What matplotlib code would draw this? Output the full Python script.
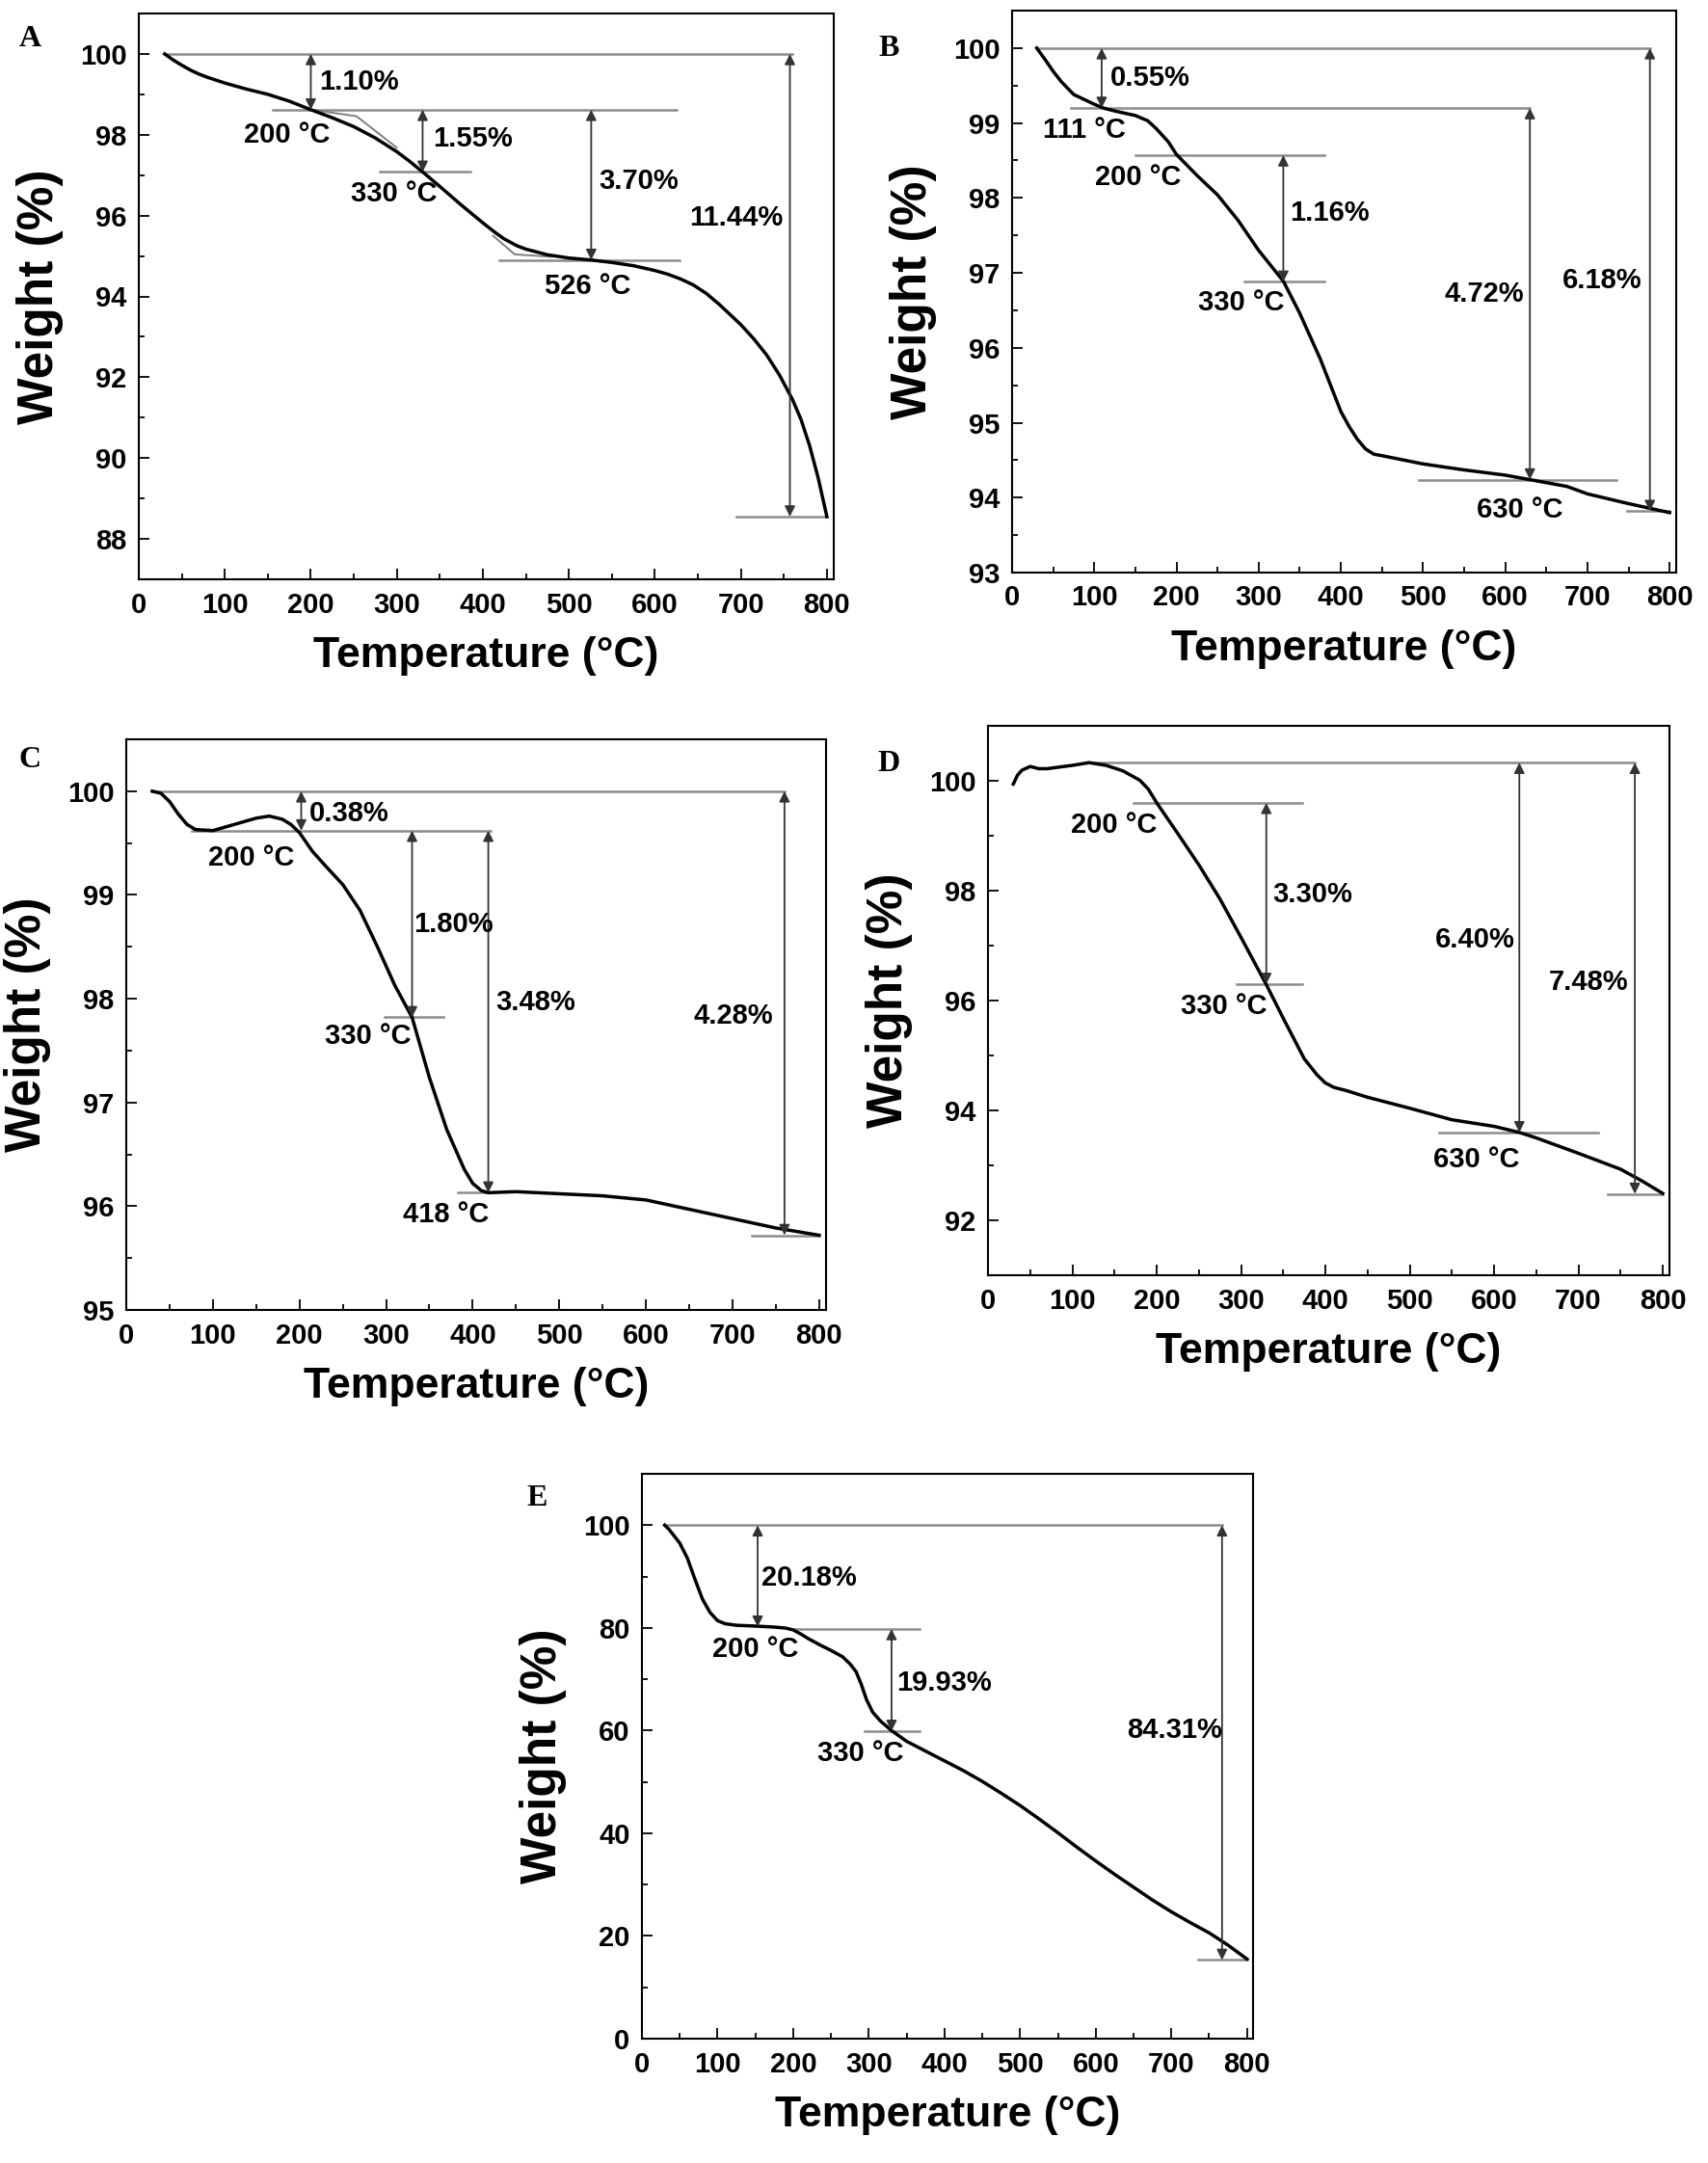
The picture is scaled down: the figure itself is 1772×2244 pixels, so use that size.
import matplotlib.pyplot as plt
from matplotlib.ticker import MultipleLocator

plt.rcParams['font.family'] = ['Liberation Sans', 'DejaVu Sans']
plt.rcParams['font.weight'] = 'bold'

# ------------------------------------------------------------------
# TGA curves (temperature in °C, weight in %)
# ------------------------------------------------------------------
temp_a = [30, 40, 50, 60, 70, 80, 90, 100, 125, 150, 175, 200, 225, 250, 275, 300, 315, 330, 350,
          375, 400, 415, 425, 440, 450, 475, 500, 526, 550, 575, 600, 615, 630, 645, 660, 675, 690,
          700, 715, 730, 745, 760, 770, 780, 790, 800]
weight_a = [100.0, 99.85, 99.72, 99.6, 99.5, 99.42, 99.35, 99.28, 99.13, 99.0, 98.83, 98.62, 98.42,
            98.2, 97.92, 97.58, 97.34, 97.08, 96.72, 96.26, 95.82, 95.57, 95.42, 95.25, 95.17, 95.03,
            94.95, 94.9, 94.84, 94.76, 94.64, 94.55, 94.43, 94.28, 94.07, 93.8, 93.5, 93.3, 92.95,
            92.55, 92.05, 91.45, 90.95, 90.3, 89.5, 88.55]

temp_b = [30, 40, 50, 60, 75, 100, 111, 125, 150, 165, 175, 190, 200, 225, 250, 275, 300, 330, 350,
          375, 400, 410, 420, 430, 440, 450, 500, 550, 600, 630, 650, 675, 700, 750, 775, 800]
weight_b = [100.0, 99.85, 99.69, 99.55, 99.38, 99.25, 99.2, 99.16, 99.1, 99.03, 98.93, 98.75, 98.58,
            98.3, 98.04, 97.7, 97.3, 96.89, 96.46, 95.85, 95.15, 94.95, 94.78, 94.65, 94.58, 94.56,
            94.45, 94.37, 94.3, 94.24, 94.2, 94.15, 94.05, 93.92, 93.86, 93.8]

temp_c = [30, 40, 50, 60, 70, 80, 100, 125, 150, 165, 180, 190, 200, 215, 230, 250, 270, 290, 310,
          330, 350, 370, 390, 400, 410, 418, 450, 500, 550, 600, 650, 700, 750, 800]
weight_c = [100.0, 99.98, 99.9, 99.78, 99.68, 99.63, 99.62, 99.68, 99.74, 99.76, 99.73, 99.68, 99.6,
            99.42, 99.28, 99.1, 98.85, 98.5, 98.13, 97.82, 97.24, 96.74, 96.36, 96.22, 96.15, 96.13,
            96.14, 96.12, 96.1, 96.06, 95.97, 95.88, 95.79, 95.72]

temp_d = [30, 35, 40, 50, 60, 70, 100, 120, 140, 160, 180, 190, 200, 225, 250, 275, 300, 330, 350,
          375, 390, 400, 410, 425, 450, 500, 550, 600, 630, 650, 700, 750, 775, 800]
weight_d = [99.94, 100.1, 100.19, 100.26, 100.22, 100.22, 100.28, 100.33, 100.28, 100.18, 100.01,
            99.85, 99.6, 99.04, 98.47, 97.85, 97.15, 96.29, 95.68, 94.94, 94.65, 94.5, 94.42, 94.36,
            94.24, 94.04, 93.83, 93.71, 93.6, 93.5, 93.22, 92.93, 92.72, 92.49]

temp_e = [30, 35, 40, 50, 60, 70, 80, 90, 100, 110, 125, 150, 175, 190, 200, 210, 220, 235, 250,
          265, 275, 283, 290, 297, 305, 315, 330, 350, 375, 400, 425, 450, 475, 500, 525, 550, 575,
          600, 625, 650, 675, 700, 725, 750, 775, 800]
weight_e = [100.0, 99.3, 98.4, 96.5, 93.6, 89.5, 85.6, 83.0, 81.4, 80.8, 80.5, 80.35, 80.15, 79.95,
            79.6, 78.8, 77.9, 76.7, 75.6, 74.4, 73.0, 71.5, 69.0, 66.0, 63.6, 61.9, 60.0, 57.9, 56.0,
            54.1, 52.2, 50.1, 47.8, 45.4, 42.8, 40.1, 37.3, 34.6, 32.0, 29.5, 27.0, 24.7, 22.6,
            20.6, 18.2, 15.5]

# tangent construction lines in panel A
tangent1_t = [200, 253, 300]
tangent1_w = [98.62, 98.46, 97.68]
tangent2_t = [412, 437, 480]
tangent2_w = [95.5, 95.04, 94.98]

# ------------------------------------------------------------------
# Annotations: arrows (x, y_top, y_bottom), guide lines (y, x0, x1), texts (x, y, label)
# ------------------------------------------------------------------
panels = {
    'A': dict(t=temp_a, w=weight_a, ylim=(87, 101), major=2, minor=1,
              rect=(144, 14, 865, 601), letter=(31, 40),
              hlines=[(100, 30, 760), (98.62, 156, 625), (97.08, 280, 385),
                      (94.9, 419, 629), (88.55, 695, 800)],
              arrows=[(200, 100, 98.62), (330, 98.62, 97.08), (526, 98.62, 94.9), (757, 100, 88.55)],
              texts=[(210, 99.3, '1.10%', 'left'), (172, 98.0, '200 °C', 'center'),
                     (342, 97.9, '1.55%', 'left'), (297, 96.55, '330 °C', 'center'),
                     (535, 96.85, '3.70%', 'left'), (522, 94.25, '526 °C', 'center'),
                     (695, 95.95, '11.44%', 'center')]),
    'B': dict(t=temp_b, w=weight_b, ylim=(93, 100.5), major=1, minor=0.5,
              rect=(1050, 11, 1739, 594), letter=(922, 50),
              hlines=[(100, 30, 776), (99.2, 71, 630), (98.57, 150, 380),
                      (96.88, 283, 380), (94.24, 495, 735), (93.82, 748, 800)],
              arrows=[(109, 100, 99.2), (330, 98.57, 96.88), (630, 99.2, 94.24), (776, 100, 93.82)],
              texts=[(120, 99.6, '0.55%', 'left'), (88, 98.9, '111 °C', 'center'),
                     (153, 98.28, '200 °C', 'center'), (338, 97.8, '1.16%', 'left'),
                     (279, 96.6, '330 °C', 'center'), (574, 96.72, '4.72%', 'center'),
                     (618, 93.83, '630 °C', 'center'), (718, 96.9, '6.18%', 'center')]),
    'C': dict(t=temp_c, w=weight_c, ylim=(95, 100.5), major=1, minor=0.5,
              rect=(131, 767, 857, 1359), letter=(31, 789),
              hlines=[(100, 30, 760), (99.62, 76, 421), (97.82, 298, 366),
                      (96.13, 383, 418), (95.72, 722, 800)],
              arrows=[(202, 100, 99.62), (330, 99.62, 97.82), (418, 99.62, 96.13), (760, 100, 95.72)],
              texts=[(211, 99.78, '0.38%', 'left'), (144, 99.36, '200 °C', 'center'),
                     (332, 98.72, '1.80%', 'left'), (279, 97.64, '330 °C', 'center'),
                     (473, 97.96, '3.48%', 'center'), (369, 95.92, '418 °C', 'center'),
                     (701, 97.83, '4.28%', 'center')]),
    'D': dict(t=temp_d, w=weight_d, ylim=(91, 101), major=2, minor=1,
              rect=(1025, 753, 1732, 1323), letter=(922, 793),
              hlines=[(100.33, 117, 767), (99.6, 172, 372), (96.3, 295, 372),
                      (93.6, 535, 723), (92.48, 735, 800)],
              arrows=[(330, 99.6, 96.3), (630, 100.33, 93.6), (767, 100.33, 92.48)],
              texts=[(149, 99.19, '200 °C', 'center'), (338, 97.93, '3.30%', 'left'),
                     (280, 95.9, '330 °C', 'center'), (577, 97.1, '6.40%', 'center'),
                     (579, 93.1, '630 °C', 'center'), (712, 96.33, '7.48%', 'center')]),
    'E': dict(t=temp_e, w=weight_e, ylim=(0, 110), major=20, minor=10,
              rect=(666, 1529, 1300, 2115), letter=(557, 1555),
              hlines=[(100, 30, 767), (79.8, 200, 367), (59.9, 295, 367), (15.3, 735, 800)],
              arrows=[(153, 100, 80.2), (330, 79.8, 59.9), (767, 100, 15.3)],
              texts=[(158, 89.8, '20.18%', 'left'), (150, 75.9, '200 °C', 'center'),
                     (337, 69.2, '19.93%', 'left'), (289, 55.6, '330 °C', 'center'),
                     (704, 60.0, '84.31%', 'center')]),
}

W, H = 1772, 2244
fig = plt.figure(figsize=(W / 100, H / 100), dpi=100)

for name, p in panels.items():
    x0, y0, x1, y1 = p['rect']
    ax = fig.add_axes([x0 / W, 1 - y1 / H, (x1 - x0) / W, (y1 - y0) / H])

    ax.plot(p['t'], p['w'], color='black', lw=2.5, zorder=5)
    if name == 'A':
        ax.plot(tangent1_t, tangent1_w, color='0.5', lw=1.4, zorder=4)
        ax.plot(tangent2_t, tangent2_w, color='0.5', lw=1.4, zorder=4)

    for yy, xa, xb in p['hlines']:
        ax.plot([xa, xb], [yy, yy], color='0.55', lw=1.8, zorder=3)
    for xx, ya, yb in p['arrows']:
        ax.annotate('', xy=(xx, yb), xytext=(xx, ya),
                    arrowprops=dict(arrowstyle='<|-|>', color='0.2', lw=1.3,
                                    mutation_scale=16, shrinkA=0, shrinkB=0), zorder=6)
    for xx, yy, s, ha in p['texts']:
        ax.text(xx, yy, s, fontsize=21, fontweight='bold', ha=ha, va='center', zorder=7)

    ax.set_xlim(0, 808)
    ax.set_ylim(*p['ylim'])
    ax.xaxis.set_major_locator(MultipleLocator(100))
    ax.xaxis.set_minor_locator(MultipleLocator(50))
    ax.yaxis.set_major_locator(MultipleLocator(p['major']))
    ax.yaxis.set_minor_locator(MultipleLocator(p['minor']))
    ax.tick_params(which='both', direction='in', top=False, right=False, width=1.3)
    ax.tick_params(which='major', length=8, labelsize=21, pad=9)
    ax.tick_params(which='minor', length=4.5)
    for lab in ax.get_xticklabels() + ax.get_yticklabels():
        lab.set_fontweight('bold')
    for sp in ax.spines.values():
        sp.set_linewidth(1.5)

    ax.set_xlabel('Temperature (°C)', fontsize=32, fontweight='bold', labelpad=13)
    ax.set_ylabel('Weight (%)', fontsize=37, fontweight='bold', labelpad=12)

    lx, ly = p['letter']
    fig.text(lx / W, 1 - ly / H, name, fontsize=23, fontweight='bold',
             family='Liberation Serif', ha='center', va='center')

fig.savefig('out.png', dpi=100)
